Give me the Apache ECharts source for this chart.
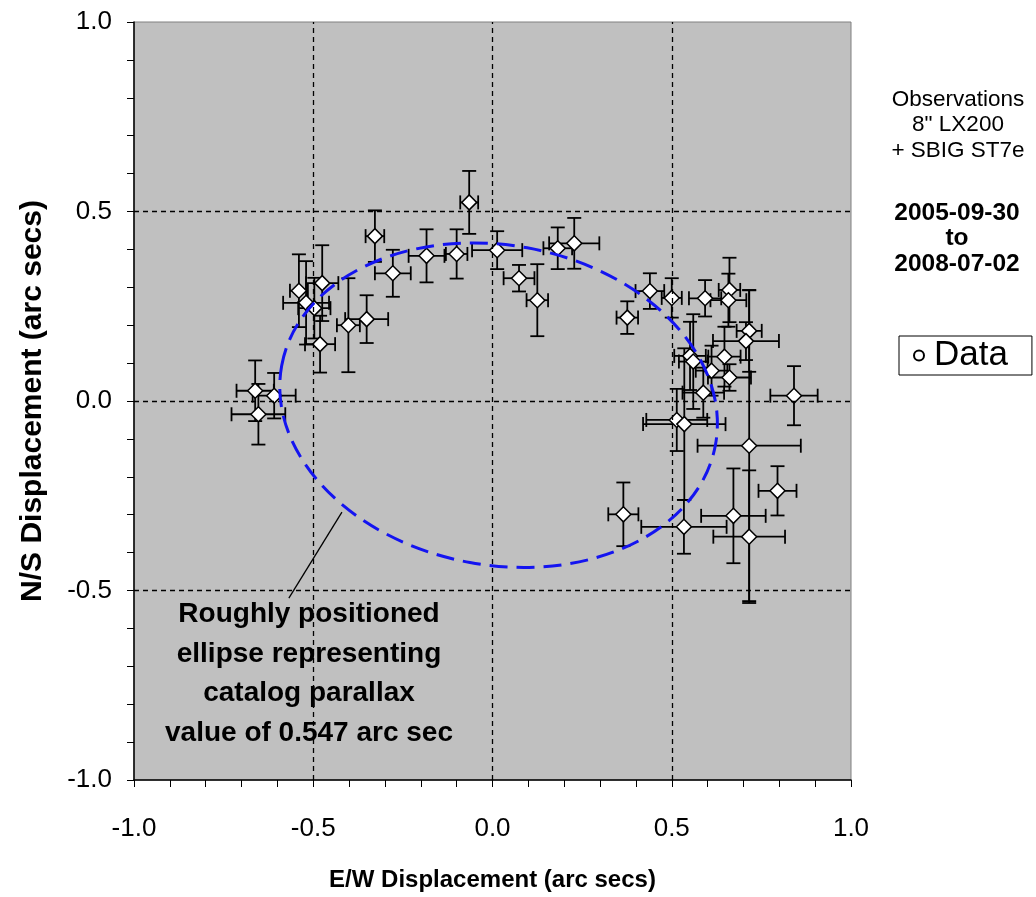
<!DOCTYPE html>
<html>
<head>
<meta charset="utf-8">
<script src="https://cdn.jsdelivr.net/npm/echarts@6/dist/echarts.min.js"></script>
<style>
  html, body { margin: 0; padding: 0; background: #ffffff; }
  #chart { width: 1036px; height: 897px; }
</style>
</head>
<body>
<div id="chart"></div>
<script>
// Relative position measurements (arc seconds) with their 1-sigma errors
const obsX = [-0.662, -0.609, -0.653, -0.540, -0.475, -0.520, -0.497, -0.481, -0.402, -0.351,
              -0.328, -0.278, -0.184, -0.100, -0.065, 0.013, 0.074, 0.125, 0.182, 0.228,
              0.376, 0.439, 0.500, 0.593, 0.661, 0.658, 0.716, 0.707, 0.551, 0.560,
              0.647, 0.611, 0.661, 0.588, 0.514, 0.535, 0.841, 0.716, 0.365, 0.534,
              0.672, 0.795, 0.716];
const obsY = [0.027, 0.014, -0.035, 0.291, 0.311, 0.259, 0.245, 0.150, 0.200, 0.216,
              0.435, 0.337, 0.383, 0.388, 0.524, 0.398, 0.324, 0.266, 0.403, 0.416,
              0.220, 0.290, 0.272, 0.271, 0.293, 0.266, 0.185, 0.158, 0.119, 0.104,
              0.117, 0.080, 0.062, 0.022, -0.050, -0.061, 0.014, -0.118, -0.299, -0.332,
              -0.303, -0.237, -0.358];
const errX = [0.052, 0.060, 0.075, 0.025, 0.045, 0.064, 0.045, 0.042, 0.032, 0.060,
              0.026, 0.050, 0.050, 0.030, 0.025, 0.070, 0.043, 0.030, 0.040, 0.070,
              0.030, 0.040, 0.028, 0.045, 0.030, 0.050, 0.035, 0.092, 0.044, 0.040,
              0.045, 0.044, 0.060, 0.058, 0.085, 0.115, 0.066, 0.144, 0.042, 0.119,
              0.090, 0.053, 0.100];
const errY = [0.080, 0.060, 0.080, 0.096, 0.100, 0.110, 0.080, 0.075, 0.124, 0.063,
              0.068, 0.062, 0.070, 0.065, 0.083, 0.050, 0.035, 0.095, 0.055, 0.067,
              0.043, 0.047, 0.052, 0.048, 0.085, 0.070, 0.108, 0.050, 0.090, 0.125,
              0.079, 0.066, 0.035, 0.066, 0.082, 0.200, 0.078, 0.410, 0.084, 0.071,
              0.125, 0.065, 0.175];

// Axis range and dashed reference lines
const axisMin = -1.0, axisMax = 1.0, axisStep = 0.5;
const refLines = [-0.5, 0.0, 0.5];

// Expected parallax ellipse: centre, semi-axes (arc secs) and tilt (degrees)
const ellipseCenter = [0.017, -0.011];
const ellipseSemiAxes = [0.615, 0.422];
const ellipseTiltDeg = 10.3;

// Pointer from the note to the ellipse
const arrowFrom = [-0.568, -0.520];
const arrowTo = [-0.420, -0.293];

const noteLines = ['Roughly positioned', 'ellipse representing', 'catalog parallax', 'value of 0.547 arc sec'];
const infoLines = ['Observations', '8" LX200', '+ SBIG ST7e'];
const dateLines = ['2005-09-30', 'to', '2008-07-02'];
const xTitle = 'E/W Displacement (arc secs)';
const yTitle = 'N/S Displacement (arc secs)';
const seriesName = 'Data';

const FONT = '"Liberation Sans", Arial, sans-serif';

const points = obsX.map((x, i) => [x, obsY[i], errX[i], errY[i]]);

function renderErrorBar(params, api) {
  const x = api.value(0), y = api.value(1), ex = api.value(2), ey = api.value(3);
  const c = api.coord([x, y]);
  const l = api.coord([x - ex, y]);
  const r = api.coord([x + ex, y]);
  const t = api.coord([x, y + ey]);
  const b = api.coord([x, y - ey]);
  const cap = 7;
  const style = { stroke: '#000000', lineWidth: 1.8 };
  const seg = (x1, y1, x2, y2) => ({ type: 'line', shape: { x1, y1, x2, y2 }, style });
  return {
    type: 'group',
    children: [
      seg(l[0], c[1], r[0], c[1]),
      seg(l[0], c[1] - cap, l[0], c[1] + cap),
      seg(r[0], c[1] - cap, r[0], c[1] + cap),
      seg(c[0], t[1], c[0], b[1]),
      seg(c[0] - cap, t[1], c[0] + cap, t[1]),
      seg(c[0] - cap, b[1], c[0] + cap, b[1])
    ]
  };
}

function renderEllipse(params, api) {
  const c = api.coord([api.value(0), api.value(1)]);
  const s = api.size([api.value(2), api.value(3)]);
  return {
    type: 'ellipse',
    x: c[0],
    y: c[1],
    rotation: -api.value(4) * Math.PI / 180,
    shape: { cx: 0, cy: 0, rx: s[0], ry: s[1] },
    style: { fill: 'none', stroke: '#1414f0', lineWidth: 3, lineDash: [18, 9] }
  };
}

const axisCommon = {
  type: 'value',
  min: axisMin,
  max: axisMax,
  interval: axisStep,
  nameLocation: 'middle',
  nameTextStyle: { fontFamily: FONT, fontSize: 23, fontWeight: 'bold', color: '#000' },
  axisLine: { show: true, onZero: false, lineStyle: { color: '#000', width: 1.5 } },
  axisTick: { show: true, inside: false, length: 7, lineStyle: { color: '#000', width: 1 } },
  minorTick: { show: true, splitNumber: 5, length: 7, lineStyle: { color: '#000', width: 1 } },
  splitLine: { show: false },
  axisLabel: {
    fontFamily: FONT, fontSize: 26, color: '#000',
    formatter: v => v.toFixed(1)
  }
};

const chart = echarts.init(document.getElementById('chart'), null, { renderer: 'canvas' });

chart.setOption({
  animation: false,
  backgroundColor: '#ffffff',
  grid: {
    left: 134, right: 185, top: 22, bottom: 117,
    show: true, backgroundColor: '#c0c0c0', borderColor: '#808080', borderWidth: 1
  },
  xAxis: Object.assign({}, axisCommon, {
    name: xTitle,
    nameGap: 88,
    nameTextStyle: Object.assign({}, axisCommon.nameTextStyle, { fontSize: 24 }),
    axisLabel: Object.assign({}, axisCommon.axisLabel, { margin: 36 })
  }),
  yAxis: Object.assign({}, axisCommon, {
    name: yTitle,
    nameGap: 86,
    nameTextStyle: Object.assign({}, axisCommon.nameTextStyle, { fontSize: 30 }),
    axisLabel: Object.assign({}, axisCommon.axisLabel, { margin: 22 })
  }),
  legend: {
    data: [seriesName],
    left: 899, top: 336,
    orient: 'vertical',
    backgroundColor: '#ffffff',
    borderColor: '#000000',
    borderWidth: 1,
    padding: [2, 24, 2, 14],
    itemWidth: 10, itemHeight: 10,
    itemGap: 0,
    icon: 'circle',
    textStyle: { fontFamily: FONT, fontSize: 35, color: '#000', padding: [0, 0, 0, 5] }
  },
  graphic: [
    {
      type: 'text', x: 309, y: 595, z: 20,
      style: {
        text: noteLines.join('\n'), fontFamily: FONT, fontSize: 28, fontWeight: 'bold',
        lineHeight: 39.5, fill: '#000', align: 'center', verticalAlign: 'top'
      }
    },
    {
      type: 'text', x: 958, y: 87,
      style: {
        text: infoLines.join('\n'), fontFamily: FONT, fontSize: 22.5,
        lineHeight: 25.5, fill: '#000', align: 'center', verticalAlign: 'top'
      }
    },
    {
      type: 'text', x: 957, y: 200,
      style: {
        text: dateLines.join('\n'), fontFamily: FONT, fontSize: 24.5, fontWeight: 'bold',
        lineHeight: 25.5, fill: '#000', align: 'center', verticalAlign: 'top'
      }
    }
  ],
  series: [
    {
      name: 'reference',
      type: 'scatter',
      data: [],
      z: 1,
      silent: true,
      markLine: {
        silent: true,
        symbol: 'none',
        label: { show: false },
        lineStyle: { color: '#000', width: 1.3, type: [5, 4] },
        data: refLines.map(v => ({ xAxis: v })).concat(refLines.map(v => ({ yAxis: v })))
      }
    },
    {
      name: 'errors',
      type: 'custom',
      renderItem: renderErrorBar,
      encode: { x: 0, y: 1 },
      data: points,
      z: 3,
      silent: true
    },
    {
      name: seriesName,
      type: 'scatter',
      data: points.map(p => [p[0], p[1]]),
      symbol: 'diamond',
      symbolSize: 15,
      itemStyle: { color: '#ffffff', borderColor: '#000000', borderWidth: 1.5, opacity: 1 },
      z: 4
    },
    {
      name: 'ellipse',
      type: 'custom',
      renderItem: renderEllipse,
      encode: { x: 0, y: 1 },
      data: [[ellipseCenter[0], ellipseCenter[1], ellipseSemiAxes[0], ellipseSemiAxes[1], ellipseTiltDeg]],
      z: 5,
      silent: true,
      clip: false
    },
    {
      name: 'pointer',
      type: 'scatter',
      data: [],
      z: 6,
      silent: true,
      markLine: {
        silent: true,
        symbol: ['none', 'arrow'],
        symbolSize: [0, 11],
        label: { show: false },
        lineStyle: { color: '#000', width: 1.3, type: 'solid' },
        data: [[{ coord: arrowFrom }, { coord: arrowTo }]]
      }
    }
  ]
});
</script>
</body>
</html>
